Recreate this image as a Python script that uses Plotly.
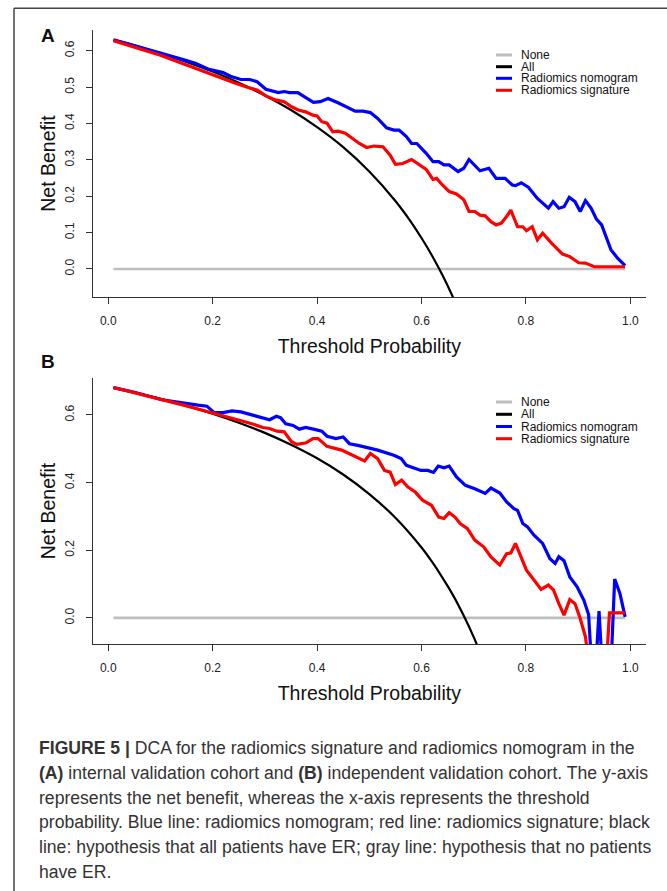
import plotly.graph_objects as go

# ---------------- data ----------------
pt_none = [0.01, 0.99]
nb_none = [0.0, 0.0]

# Panel A
a_pt_all = [0.01, 0.05, 0.10, 0.15, 0.20, 0.25, 0.30, 0.35, 0.40, 0.45, 0.50, 0.55, 0.58, 0.60, 0.62, 0.64, 0.66, 0.67]
a_nb_all = [0.630, 0.615, 0.593, 0.569, 0.543, 0.512, 0.477, 0.437, 0.390, 0.335, 0.268, 0.187, 0.129, 0.085, 0.037, -0.017, -0.077, -0.109]

a_pt_nomo = [0.01, 0.05, 0.10, 0.15, 0.168, 0.193, 0.22, 0.234, 0.254, 0.271, 0.285, 0.302,
             0.326, 0.337, 0.347, 0.363, 0.378, 0.393, 0.406, 0.421, 0.44, 0.457, 0.473, 0.488,
             0.502, 0.516, 0.533, 0.547, 0.557, 0.571, 0.581, 0.591, 0.609, 0.622, 0.633, 0.643,
             0.653, 0.67, 0.681, 0.691, 0.702, 0.712, 0.729, 0.743, 0.76, 0.774, 0.78, 0.791,
             0.805, 0.822, 0.843, 0.852, 0.863, 0.873, 0.883, 0.894, 0.904, 0.914, 0.925, 0.935,
             0.945, 0.963, 0.976, 0.99]
a_nb_nomo = [0.630, 0.615, 0.594, 0.573, 0.565, 0.549, 0.540, 0.530, 0.521, 0.521, 0.515, 0.494,
             0.485, 0.488, 0.485, 0.485, 0.471, 0.458, 0.460, 0.469, 0.457, 0.446, 0.434, 0.434,
             0.430, 0.414, 0.388, 0.382, 0.382, 0.364, 0.345, 0.345, 0.318, 0.295, 0.295, 0.286,
             0.286, 0.268, 0.277, 0.301, 0.286, 0.270, 0.277, 0.249, 0.249, 0.231, 0.229, 0.237,
             0.224, 0.194, 0.167, 0.185, 0.167, 0.171, 0.197, 0.185, 0.158, 0.188, 0.167, 0.137,
             0.121, 0.052, 0.029, 0.009]

a_pt_sig = [0.01, 0.05, 0.10, 0.15, 0.20, 0.241, 0.268, 0.285, 0.302, 0.32, 0.337, 0.351,
            0.364, 0.378, 0.392, 0.400, 0.409, 0.419, 0.430, 0.44, 0.454, 0.467, 0.481, 0.495,
            0.509, 0.526, 0.54, 0.55, 0.564, 0.581, 0.595, 0.609, 0.622, 0.629, 0.64, 0.653,
            0.667, 0.681, 0.691, 0.702, 0.712, 0.722, 0.733, 0.743, 0.753, 0.763, 0.771, 0.784,
            0.794, 0.801, 0.812, 0.822, 0.832, 0.849, 0.87, 0.884, 0.901, 0.914, 0.931, 0.99]
a_nb_sig = [0.628, 0.611, 0.588, 0.561, 0.533, 0.512, 0.499, 0.492, 0.476, 0.465, 0.460, 0.446,
            0.437, 0.432, 0.423, 0.421, 0.405, 0.401, 0.377, 0.379, 0.373, 0.359, 0.345, 0.334,
            0.338, 0.336, 0.313, 0.288, 0.290, 0.301, 0.288, 0.274, 0.246, 0.249, 0.231, 0.213,
            0.206, 0.190, 0.158, 0.158, 0.148, 0.146, 0.130, 0.121, 0.126, 0.144, 0.162, 0.116,
            0.116, 0.105, 0.116, 0.080, 0.098, 0.071, 0.041, 0.034, 0.017, 0.016, 0.006, 0.006]

# Panel B
b_pt_all = [0.01, 0.05, 0.10, 0.15, 0.20, 0.25, 0.30, 0.35, 0.40, 0.45, 0.50, 0.55, 0.60, 0.62, 0.64, 0.66, 0.68, 0.70, 0.72]
b_nb_all = [0.680, 0.666, 0.648, 0.627, 0.604, 0.577, 0.547, 0.512, 0.472, 0.424, 0.366, 0.296, 0.208, 0.166, 0.119, 0.068, 0.009, -0.057, -0.132]

b_pt_nomo = [0.01, 0.05, 0.103, 0.15, 0.172, 0.189, 0.203, 0.22, 0.237, 0.254, 0.275, 0.292,
             0.309, 0.322, 0.33, 0.34, 0.354, 0.366, 0.378, 0.393, 0.409, 0.419, 0.436, 0.45,
             0.462, 0.478, 0.516, 0.547, 0.561, 0.571, 0.585, 0.599, 0.612, 0.623, 0.632, 0.643,
             0.653, 0.667, 0.684, 0.702, 0.722, 0.733, 0.75, 0.763, 0.777, 0.784, 0.794, 0.803,
             0.815, 0.832, 0.846, 0.856, 0.863, 0.873, 0.884, 0.898, 0.911, 0.92, 0.93, 0.94,
             0.95, 0.96, 0.97, 0.98, 0.99]
b_nb_nomo = [0.681, 0.667, 0.645, 0.633, 0.629, 0.626, 0.607, 0.607, 0.612, 0.609, 0.601, 0.594,
             0.586, 0.596, 0.592, 0.574, 0.569, 0.558, 0.563, 0.558, 0.552, 0.537, 0.530, 0.535,
             0.515, 0.510, 0.496, 0.481, 0.471, 0.451, 0.443, 0.436, 0.436, 0.430, 0.449, 0.444,
             0.449, 0.417, 0.392, 0.382, 0.368, 0.384, 0.369, 0.343, 0.323, 0.318, 0.279, 0.269,
             0.245, 0.220, 0.175, 0.161, 0.181, 0.169, 0.121, 0.092, 0.052, 0.010, -0.25, 0.020,
             -0.25, -0.25, 0.115, 0.072, 0.003]

b_pt_sig = [0.01, 0.05, 0.10, 0.15, 0.20, 0.241, 0.275, 0.296, 0.309, 0.323, 0.337, 0.351,
            0.361, 0.378, 0.392, 0.402, 0.419, 0.447, 0.491, 0.502, 0.516, 0.529, 0.54, 0.55,
            0.562, 0.574, 0.588, 0.602, 0.619, 0.633, 0.643, 0.653, 0.664, 0.674, 0.688, 0.702,
            0.719, 0.733, 0.75, 0.763, 0.771, 0.78, 0.791, 0.801, 0.818, 0.829, 0.843, 0.853,
            0.863, 0.873, 0.884, 0.894, 0.904, 0.914, 0.93, 0.94, 0.95, 0.96, 0.97, 0.98, 0.99]
b_nb_sig = [0.681, 0.666, 0.648, 0.627, 0.606, 0.589, 0.574, 0.563, 0.560, 0.552, 0.550, 0.521,
            0.513, 0.517, 0.530, 0.530, 0.507, 0.496, 0.464, 0.486, 0.471, 0.436, 0.431, 0.394,
            0.407, 0.387, 0.372, 0.348, 0.333, 0.298, 0.294, 0.311, 0.298, 0.279, 0.264, 0.230,
            0.210, 0.180, 0.156, 0.190, 0.192, 0.220, 0.180, 0.141, 0.107, 0.084, 0.097, 0.082,
            0.042, 0.008, 0.054, 0.042, -0.002, -0.056, -0.25, -0.25, -0.25, 0.015, 0.015, 0.015, 0.015]

x_ticks = [0.0, 0.2, 0.4, 0.6, 0.8, 1.0]
x_ticktext = ["0.0", "0.2", "0.4", "0.6", "0.8", "1.0"]
a_y_ticks = [0.0, 0.1, 0.2, 0.3, 0.4, 0.5, 0.6]
a_y_ticktext = ["0.0", "0.1", "0.2", "0.3", "0.4", "0.5", "0.6"]
b_y_ticks = [0.0, 0.2, 0.4, 0.6]
b_y_ticktext = ["0.0", "0.2", "0.4", "0.6"]

legend_names = ["None", "All", "Radiomics nomogram", "Radiomics signature"]
legend_colors = ["#BEBEBE", "#000000", "#0000FF", "#FF0000"]

caption_lines = [
    "<b>FIGURE 5 |</b> DCA for the radiomics signature and radiomics nomogram in the",
    "<b>(A)</b> internal validation cohort and <b>(B)</b> independent validation cohort. The y-axis",
    "represents the net benefit, whereas the x-axis represents the threshold",
    "probability. Blue line: radiomics nomogram; red line: radiomics signature; black",
    "line: hypothesis that all patients have ER; gray line: hypothesis that no patients",
    "have ER.",
]

# ---------------- layout helpers ----------------
W, H = 667, 891
def px(x):
    return x / W
def py(y):
    return 1 - y / H

FONT = "Liberation Sans, Arial, sans-serif"
AX = "#333333"

fig = go.Figure()

def add_panel(xa, ya, pts_nbs):
    widths = [2.6, 2.2, 3.2, 3.2]
    for (pts, nbs), name, col, w in zip(pts_nbs, legend_names, legend_colors, widths):
        fig.add_trace(go.Scatter(
            x=pts, y=nbs, mode="lines", name=name,
            line=dict(color=col, width=w, shape="spline" if name == "All" else "linear",
                      smoothing=1.0 if name == "All" else 0),
            xaxis=xa, yaxis=ya, showlegend=False, hoverinfo="skip"))

add_panel("x", "y", [(pt_none, nb_none), (a_pt_all, a_nb_all),
                      (a_pt_nomo, a_nb_nomo), (a_pt_sig, a_nb_sig)])
add_panel("x2", "y2", [(pt_none, nb_none), (b_pt_all, b_nb_all),
                        (b_pt_nomo, b_nb_nomo), (b_pt_sig, b_nb_sig)])

def xaxis_cfg(anchor):
    return dict(
        domain=[px(93), px(645.6)], anchor=anchor,
        range=[-0.0292, 1.0292], tickvals=x_ticks, ticktext=x_ticktext,
        ticks="outside", ticklen=6, tickwidth=1.2, tickcolor=AX,
        showline=True, linecolor=AX, linewidth=1.3, mirror=False,
        showgrid=False, zeroline=False, ticklabelstandoff=6,
        tickfont=dict(family=FONT, size=12, color="#222222"),
        title=dict(text="Threshold Probability", standoff=12,
                   font=dict(family=FONT, size=19.5, color="#111111")),
    )

def yaxis_cfg(anchor, top, bottom, rng, tv, tt):
    return dict(
        domain=[py(bottom), py(top)], anchor=anchor,
        range=rng, tickvals=tv, ticktext=tt, tickangle=-90,
        ticks="outside", ticklen=6, tickwidth=1.2, tickcolor=AX,
        showline=True, linecolor=AX, linewidth=1.3, mirror=False,
        showgrid=False, zeroline=False, ticklabelstandoff=7,
        tickfont=dict(family=FONT, size=12, color="#222222"),
        title=dict(text="Net Benefit", standoff=2,
                   font=dict(family=FONT, size=19.5, color="#111111")),
    )

annotations = []
shapes = []

def legend(row_ys):
    for name, col, yy in zip(legend_names, legend_colors, row_ys):
        shapes.append(dict(type="line", xref="paper", yref="paper",
                           x0=px(496), x1=px(512), y0=py(yy), y1=py(yy),
                           line=dict(color=col, width=3)))
        annotations.append(dict(text=name, xref="paper", yref="paper",
                                x=px(520), y=py(yy), xanchor="left", yanchor="middle",
                                showarrow=False, borderpad=0,
                                font=dict(family=FONT, size=12, color="#111111")))

legend([55, 66.7, 78.3, 90.3])
legend([402, 414.3, 426.5, 438.7])

# panel letters
for letter, yy in [("A", 35), ("B", 361)]:
    annotations.append(dict(text="<b>%s</b>" % letter, xref="paper", yref="paper",
                            x=px(48), y=py(yy), xanchor="center", yanchor="middle",
                            showarrow=False, font=dict(family=FONT, size=19, color="#111111")))

# caption
cap_y = [748, 773, 797.5, 822, 847, 871.5]
for line, yy in zip(caption_lines, cap_y):
    annotations.append(dict(text=line, xref="paper", yref="paper",
                            x=px(37), y=py(yy), xanchor="left", yanchor="middle",
                            showarrow=False, font=dict(family=FONT, size=17.6, color="#333333")))

# outer frame (top and left edges visible)
shapes.append(dict(type="line", xref="paper", yref="paper", x0=px(14), x1=px(667),
                   y0=py(8.3), y1=py(8.3), line=dict(color="#444444", width=1.5)))
shapes.append(dict(type="line", xref="paper", yref="paper", x0=px(14), x1=px(14),
                   y0=py(8.3), y1=py(891), line=dict(color="#444444", width=1.5)))

fig.update_layout(
    width=W, height=H,
    margin=dict(l=0, r=0, t=0, b=0),
    paper_bgcolor="white", plot_bgcolor="white",
    showlegend=False,
    xaxis=xaxis_cfg("y"),
    yaxis=yaxis_cfg("x", 30, 297, [-0.0772, 0.6572], a_y_ticks, a_y_ticktext),
    xaxis2=xaxis_cfg("y2"),
    yaxis2=yaxis_cfg("x2", 378, 644, [-0.0773, 0.7093], b_y_ticks, b_y_ticktext),
    annotations=annotations,
    shapes=shapes,
    font=dict(family=FONT),
)

fig.write_html("out.html")
